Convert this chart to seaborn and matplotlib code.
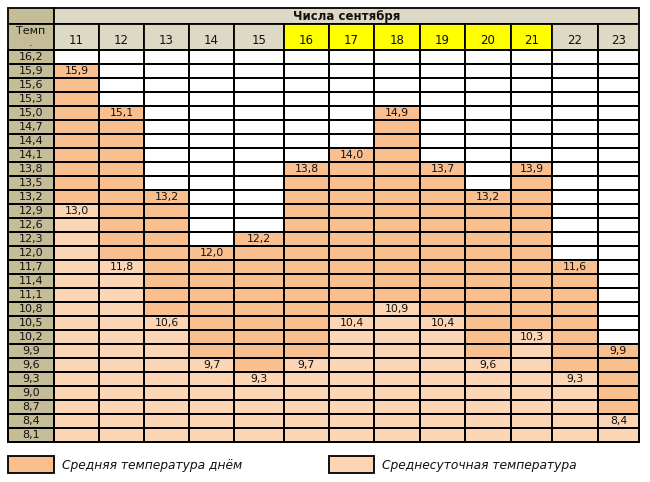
#!/usr/bin/env python3
"""
Temperature table for September days: day average vs daily mean, drawn as seaborn heatmap columns.
"""

import numpy as np
import matplotlib
matplotlib.use('Agg')
import matplotlib.pyplot as plt
import seaborn as sns
from matplotlib.colors import ListedColormap
from matplotlib.patches import Rectangle

# --- data ---
days = [11, 12, 13, 14, 15, 16, 17, 18, 19, 20, 21, 22, 23]
day_avg = [15.9, 15.1, 13.2, 12.0, 12.2, 13.8, 14.0, 14.9, 13.7, 13.2, 13.9, 11.6, 9.9]
daily_mean = [13.0, 11.8, 10.6, 9.7, 9.3, 9.7, 10.4, 10.9, 10.4, 9.6, 10.3, 9.3, 8.4]
temp_scale = [16.2, 15.9, 15.6, 15.3, 15.0, 14.7, 14.4, 14.1, 13.8, 13.5, 13.2, 12.9, 12.6, 12.3,
              12.0, 11.7, 11.4, 11.1, 10.8, 10.5, 10.2, 9.9, 9.6, 9.3, 9.0, 8.7, 8.4, 8.1]
highlight_days = [16, 17, 18, 19, 20, 21]

title = 'Числа сентября'
temp_header = 'Темп\n.'
legend_labels = ['Средняя температура днём', 'Среднесуточная температура']

# --- styles ---
C_DARK = '#FABF8F'
C_LIGHT = '#FCD5B4'
C_HEAD = '#DDD9C4'
C_TEMP = '#C4BD97'
C_YELLOW = '#FFFF00'
LW = 1.3
W, H = 650, 482

# column edges in pixels (temp column first, then one per day)
col_edges = [8, 54, 99, 144, 189, 234, 284, 329, 374, 420, 465, 511, 552, 598, 639]
y_top, y_row1, y_head, y_bottom = 8, 24, 50, 442


def fmt(v):
    return f'{v:.1f}'.replace('.', ',')


def box(x0, y0, x1, y1):
    return [x0 / W, 1 - y1 / H, (x1 - x0) / W, (y1 - y0) / H]


def nearest_row(v):
    return int(np.argmin(np.abs(np.array(temp_scale) - v)))


# build cell categories: 0 empty, 1 daily mean, 2 day average
n_rows = len(temp_scale)
cells = np.zeros((n_rows, len(days)), dtype=int)
annot = np.full((n_rows, len(days)), '', dtype=object)
for j, (hi, lo) in enumerate(zip(day_avg, daily_mean)):
    r_hi, r_lo = nearest_row(hi), nearest_row(lo)
    cells[r_hi:r_lo, j] = 2
    cells[r_lo:, j] = 1
    annot[r_hi, j] = fmt(hi)
    annot[r_lo, j] = fmt(lo)

sns.set_style('white')
plt.rcParams['font.family'] = ['DejaVu Sans']

fig = plt.figure(figsize=(W / 100, H / 100), dpi=100)

# overlay canvas for headers and legend
canvas = fig.add_axes([0, 0, 1, 1])
canvas.set_xlim(0, W)
canvas.set_ylim(H, 0)
canvas.axis('off')


def rect(x0, y0, x1, y1, fc):
    canvas.add_patch(Rectangle((x0, y0), x1 - x0, y1 - y0, facecolor=fc,
                               edgecolor='black', linewidth=LW))


# header row 1
rect(col_edges[0], y_top, col_edges[1], y_row1, C_TEMP)
rect(col_edges[1], y_top, col_edges[-1], y_row1, C_HEAD)
canvas.text((col_edges[1] + col_edges[-1]) / 2, (y_top + y_row1) / 2 + 0.5, title,
            ha='center', va='center', fontsize=8.5, fontweight='bold', color='#111111')

# header row 2
rect(col_edges[0], y_row1, col_edges[1], y_head, C_TEMP)
canvas.text((col_edges[0] + col_edges[1]) / 2, y_row1 + 1.5, temp_header, ha='center', va='top',
            fontsize=8, color='#111111', linespacing=1.25)
for j, d in enumerate(days):
    x0, x1 = col_edges[j + 1], col_edges[j + 2]
    rect(x0, y_row1, x1, y_head, C_YELLOW if d in highlight_days else C_HEAD)
    canvas.text((x0 + x1) / 2, y_head - 2.5, str(d), ha='center', va='bottom',
                fontsize=8.5, color='#111111')

# temperature scale column
ax_t = fig.add_axes(box(col_edges[0], y_head, col_edges[1], y_bottom))
sns.heatmap(np.zeros((n_rows, 1)), cmap=ListedColormap([C_TEMP]), cbar=False,
            annot=np.array([[fmt(t)] for t in temp_scale], dtype=object), fmt='',
            annot_kws={'size': 8, 'color': '#111111'},
            linewidths=LW, linecolor='black', xticklabels=False, yticklabels=False, ax=ax_t)
ax_t.collections[0].set_clip_on(False)

# one heatmap column per day
cmap = ListedColormap(['white', C_LIGHT, C_DARK])
for j in range(len(days)):
    ax = fig.add_axes(box(col_edges[j + 1], y_head, col_edges[j + 2], y_bottom))
    sns.heatmap(cells[:, [j]], cmap=cmap, vmin=0, vmax=2, cbar=False,
                annot=annot[:, [j]], fmt='', annot_kws={'size': 7.8, 'color': '#111111'},
                linewidths=LW, linecolor='black', xticklabels=False, yticklabels=False, ax=ax)
    ax.collections[0].set_clip_on(False)

# legend
rect(8, 456, 54, 473, C_DARK)
canvas.text(62, 465, legend_labels[0], ha='left', va='center', fontsize=8.8,
            style='italic', color='#111111')
rect(329, 456, 374, 473, C_LIGHT)
canvas.text(382, 465, legend_labels[1], ha='left', va='center', fontsize=8.8,
            style='italic', color='#111111')

fig.savefig('out.png', dpi=100)
plt.close(fig)
